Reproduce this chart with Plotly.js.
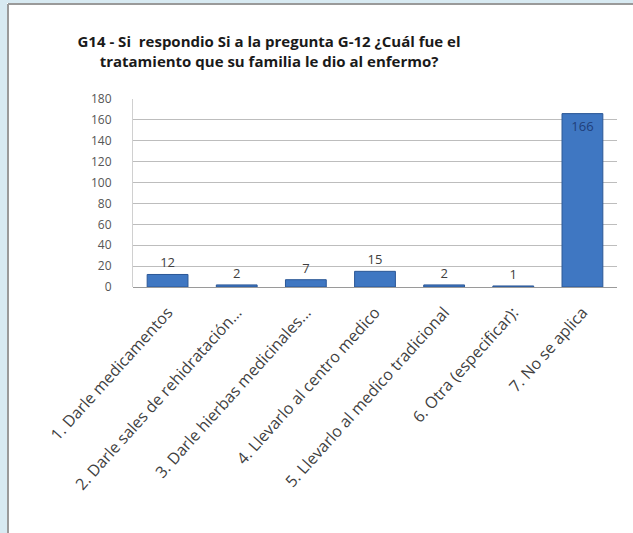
<!DOCTYPE html>
<html><head><meta charset="utf-8">
<script src="https://cdn.plot.ly/plotly-3.0.1.min.js"></script>
<style>html,body{margin:0;padding:0;background:#ffffff;overflow:hidden;}#chart{width:633px;height:533px;}</style>
</head><body><div id="chart"></div>
<script>
const categories = ["1. Darle medicamentos","2. Darle sales de rehidratación...","3. Darle hierbas medicinales...","4. Llevarlo al centro medico","5. Llevarlo al medico tradicional","6. Otra (especificar):","7. No se aplica"];
const values = [12, 2, 7, 15, 2, 1, 166];
const yTicks = [0,20,40,60,80,100,120,140,160,180];

const positions = values.map(v => v > 100 ? 'inside' : 'outside');
const textColors = values.map(v => v > 100 ? '#1f3f7a' : '#404040');

// plot area geometry (pixels) used only to place the frame decoration
const L = 133, R = 16, T = 99, B = 246, W = 633 - L - R, H = 533 - T - B;
const px = x => (x - L) / W;          // pixel x -> paper
const py = y => (533 - B - y) / H;    // pixel y -> paper
const frame = '#d8eaf2';

const trace = {
  type: 'bar', x: categories, y: values,
  text: values.map(String), textposition: positions, insidetextanchor: 'end',
  textfont: {family: 'Open Sans, sans-serif', size: 13, color: textColors},
  constraintext: 'none', cliponaxis: false,
  marker: {color: '#3f77c2', line: {color: '#2b5796', width: 1}},
  hoverinfo: 'none'
};
const layout = {
  width: 633, height: 533,
  paper_bgcolor: '#ffffff', plot_bgcolor: 'rgba(0,0,0,0)',
  margin: {l: L, r: R, t: T, b: B},
  bargap: 0.41,
  showlegend: false,
  title: {text: 'G14 - Si  respondio Si a la pregunta G-12 ¿Cuál fue el<br>tratamiento que su familia le dio al enfermo?',
    font: {family: 'Open Sans, sans-serif', size: 15, color: '#1a1a1a', weight: 'bold'},
    xref: 'container', x: 0.425, xanchor: 'center', yref: 'container', y: 1 - 47/533, yanchor: 'top'},
  xaxis: {tickangle: -48, tickfont: {family: 'Open Sans, sans-serif', size: 16, color: '#404040'},
    showline: false, ticks: '', showgrid: false, ticklabelstandoff: 12},
  yaxis: {range: [0, 180], tickvals: yTicks, ticktext: yTicks.map(String),
    tickfont: {family: 'Open Sans, sans-serif', size: 12, color: '#555'},
    showgrid: true, gridcolor: '#bdbdbd', gridwidth: 1, zeroline: true, zerolinecolor: '#9a9a9a',
    showline: true, linecolor: '#d0d0d0', ticks: '', ticklabelstandoff: 18},
  shapes: [
    {type: 'rect', xref: 'paper', yref: 'paper', layer: 'above',
     x0: px(-5), x1: px(7), y0: py(540), y1: py(-5), fillcolor: frame, line: {width: 0}},
    {type: 'rect', xref: 'paper', yref: 'paper', layer: 'above',
     x0: px(-5), x1: px(640), y0: py(3), y1: py(-5), fillcolor: frame, line: {width: 0}},
    {type: 'line', xref: 'paper', yref: 'paper', layer: 'above',
     x0: px(8), x1: px(8), y0: py(540), y1: py(4), line: {color: '#9a9a9a', width: 2}},
    {type: 'line', xref: 'paper', yref: 'paper', layer: 'above',
     x0: px(8), x1: px(640), y0: py(4), y1: py(4), line: {color: '#9a9a9a', width: 2}}
  ]
};
Plotly.newPlot('chart', [trace], layout, {displayModeBar: false, staticPlot: true});
</script></body></html>
